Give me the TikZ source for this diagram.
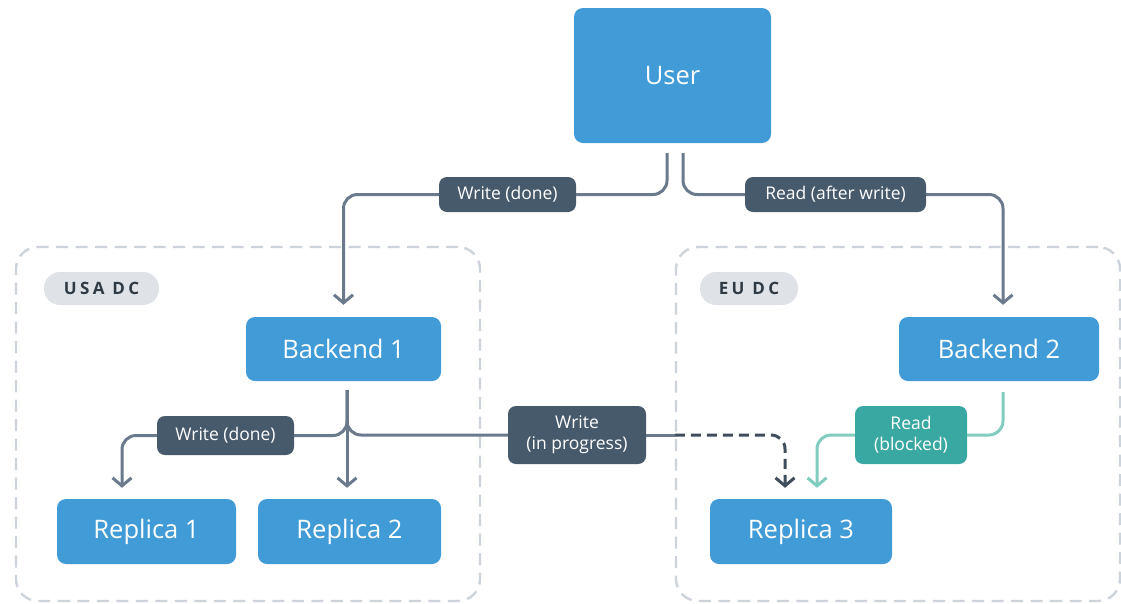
\documentclass[tikz,border=0pt]{standalone}
\usepackage{fontspec}
\setmainfont{Open Sans}
\usetikzlibrary{arrows.meta}
\definecolor{boxblue}{HTML}{419BD7}
\definecolor{lbldark}{HTML}{475A6B}
\definecolor{linegray}{HTML}{6A7A8C}
\definecolor{dcgray}{HTML}{CDD3DA}
\definecolor{pillgray}{HTML}{DFE3E8}
\definecolor{pilltext}{HTML}{2F3A45}
\definecolor{tealfill}{HTML}{3AA8A2}
\definecolor{tealline}{HTML}{80CDBF}
\definecolor{dashdark}{HTML}{3F4D5C}
\begin{document}
\begin{tikzpicture}[x=1pt,y=-1pt,
  bluebox/.style={fill=boxblue, rounded corners=9pt, text=white, font=\fontsize{25.5}{30}\selectfont, inner sep=0pt},
  lbl/.style={fill=lbldark, rounded corners=8pt, text=white, font=\fontsize{17.5}{21}\selectfont, inner sep=0pt, align=center},
  dcbox/.style={draw=dcgray, line width=2.4pt, dash pattern=on 12pt off 7.5pt, rounded corners=22pt, inner sep=0pt},
  pill/.style={fill=pillgray, rounded corners=16pt, text=pilltext, inner sep=0pt, minimum height=33pt, font=\fontsize{17}{20}\selectfont\bfseries\addfontfeature{LetterSpace=20}},
  conn/.style={draw=linegray, line width=3pt, rounded corners=14pt},
  tealconn/.style={draw=tealline, line width=3pt, rounded corners=14pt},
  dashconn/.style={draw=dashdark, line width=3pt, rounded corners=14pt, dash pattern=on 10pt off 6pt},
  tip/.style={-{Straight Barb[length=8pt,width=19pt]}}]
\useasboundingbox (0,0) rectangle (1121,603);

% data centre containers
\node[dcbox, minimum width=464pt, minimum height=354pt] (usa) at (248,424) {};
\node[dcbox, minimum width=444pt, minimum height=354pt] (eu) at (898,424) {};
\node[pill, minimum width=115pt] (usalbl) at (101.5,288.5) {USA DC};
\node[pill, minimum width=98pt] (eulbl) at (749,288.5) {EU DC};

% boxes
\node[bluebox, minimum width=197pt, minimum height=135pt] (user) at (672.5,75.5) {User};
\node[bluebox, minimum width=195pt, minimum height=64pt] (b1) at (343.5,349) {Backend 1};
\node[bluebox, minimum width=200pt, minimum height=64pt] (b2) at (999,349) {Backend 2};
\node[bluebox, minimum width=179pt, minimum height=65pt] (r1) at (146.5,531.5) {Replica 1};
\node[bluebox, minimum width=183pt, minimum height=65pt] (r2) at (349.5,531.5) {Replica 2};
\node[bluebox, minimum width=182pt, minimum height=65pt] (r3) at (801,531.5) {Replica 3};

% labels
\node[lbl, minimum width=137pt, minimum height=35pt] (lw1) at (507.5,194.5) {Write (done)};
\node[lbl, minimum width=181pt, minimum height=35pt] (lr1) at (835.5,194.5) {Read (after write)};
\node[lbl, minimum width=137pt, minimum height=39pt] (lw2) at (225.5,435.5) {Write (done)};
\node[lbl, minimum width=138pt, minimum height=58pt] (lw3) at (577,435) {Write\\(in progress)};
\node[lbl, fill=tealfill, minimum width=112pt, minimum height=58pt] (lrb) at (911,435) {Read\\(blocked)};

% anchor coordinates
\coordinate (uL) at ([xshift=-5.5pt,yshift=-10pt]user.south);
\coordinate (uR) at ([xshift=10.5pt,yshift=-10pt]user.south);
\coordinate (b1in) at ([yshift=12pt]b1.north);
\coordinate (b2in) at ([xshift=4pt,yshift=12pt]b2.north);
\coordinate (b1o) at ([xshift=3.5pt,yshift=-9pt]b1.south);
\coordinate (b2o) at ([xshift=4pt,yshift=-11pt]b2.south);
\coordinate (r1in) at ([xshift=-24.5pt,yshift=11pt]r1.north);
\coordinate (r2in) at ([xshift=-2.5pt,yshift=11pt]r2.north);
\coordinate (r3inA) at ([xshift=-16pt,yshift=11pt]r3.north);
\coordinate (r3inB) at ([xshift=16pt,yshift=11pt]r3.north);
\coordinate (euedge) at (lw3.east -| eu.west);

% connectors
\draw[conn] (uL) |- (lw1.east);
\draw[conn, tip] (lw1.west) -| (b1in);
\draw[conn] (uR) |- (lr1.west);
\draw[conn, tip] (lr1.east) -| (b2in);

\draw[conn, tip] (b1o) -- (r2in);
\draw[conn] (b1o) |- (lw2.east);
\draw[conn, tip] (lw2.west) -| (r1in);
\draw[conn] (b1o) |- (lw3.west);
\draw[conn, rounded corners=0pt] (lw3.east) -- (euedge);
\draw[dashconn, tip] (euedge) -| (r3inA);

\draw[tealconn] (b2o) |- (lrb.east);
\draw[tealconn, tip] (lrb.west) -| (r3inB);
\end{tikzpicture}
\end{document}
